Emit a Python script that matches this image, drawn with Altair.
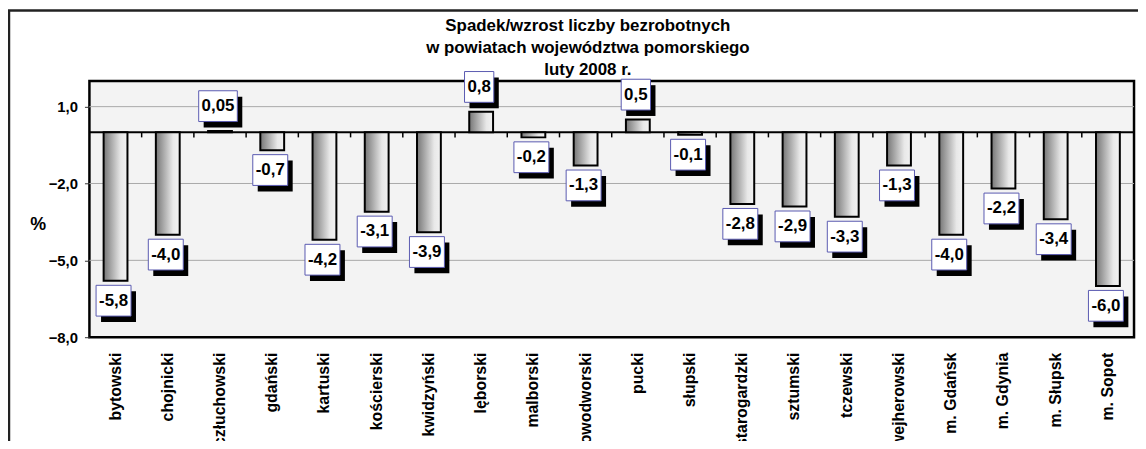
import altair as alt
import pandas as pd

categories = ["bytowski", "chojnicki", "człuchowski", "gdański", "kartuski",
              "kościerski", "kwidzyński", "lęborski", "malborski", "nowodworski",
              "pucki", "słupski", "starogardzki", "sztumski", "tczewski",
              "wejherowski", "m. Gdańsk", "m. Gdynia", "m. Słupsk", "m. Sopot"]
values = [-5.8, -4.0, 0.05, -0.7, -4.2, -3.1, -3.9, 0.8, -0.2, -1.3,
          0.5, -0.1, -2.8, -2.9, -3.3, -1.3, -4.0, -2.2, -3.4, -6.0]
y_ticks = [1.0, -2.0, -5.0, -8.0]
y_domain = [-8.0, 2.0]
title_lines = ["Spadek/wzrost liczby bezrobotnych",
               "w powiatach województwa pomorskiego",
               "luty 2008 r."]
y_title = "%"


def fmt(v):
    s = f"{v:.2f}" if round(v * 100) % 10 else f"{v:.1f}"
    return s.replace(".", ",")


df = pd.DataFrame({"cat": categories, "v": values, "lbl": [fmt(v) for v in values]})
one = pd.DataFrame({"a": [0]})
grid_df = pd.DataFrame({"t": y_ticks[:-1]})
zero_df = pd.DataFrame({"z": [0.0]})

FONT = "Liberation Sans"
W, H = 1052, 258

x_axis = alt.Axis(title=None, labelAngle=-90, labelFontSize=16,
                  labelFontWeight="bold", labelColor="black",
                  labelFont=FONT, labelPadding=15, ticks=False, domain=False)
x_scale = alt.Scale(paddingInner=0, paddingOuter=0)
x_enc = alt.X("cat:N", sort=categories, scale=x_scale, axis=x_axis)
x_edge = alt.X("cat:N", sort=categories, scale=x_scale, axis=x_axis,
               bandPosition=1)
y_scale = alt.Scale(domain=y_domain, nice=False, zero=False)
y_enc = alt.Y("v:Q", scale=y_scale,
              axis=alt.Axis(values=y_ticks,
                            labelExpr="replace(format(datum.value, '.1f'), '.', ',')",
                            title=y_title, titleAngle=0, titleX=-52, titleY=145,
                            titleFontSize=18, titleFontWeight="bold",
                            titleAlign="center", titleBaseline="middle",
                            titleColor="black", titleFont=FONT,
                            grid=False, domain=False, tickSize=5,
                            tickColor="#333333", labelFontSize=15,
                            labelFontWeight="bold", labelPadding=7,
                            labelColor="black", labelFont=FONT))

bar_gradient = alt.Gradient(gradient="linear", x1=0, y1=0, x2=1, y2=0,
                            stops=[alt.GradientStop(color="#767676", offset=0),
                                   alt.GradientStop(color="#e8e8e8", offset=0.72),
                                   alt.GradientStop(color="#f2f2f2", offset=1)])

base = alt.Chart(df)

grid = alt.Chart(grid_df).mark_rule(color="#a8a8a8", strokeWidth=1).encode(
    y=alt.Y("t:Q", scale=y_scale))

zero_line = alt.Chart(zero_df).mark_rule(color="black", strokeWidth=2).encode(
    y=alt.Y("z:Q", scale=y_scale))

zero_ticks = base.transform_filter(
    alt.datum.cat != categories[-1]
).transform_calculate(z="0", z2="-0.2").mark_rule(
    strokeWidth=1.5, color="black").encode(
    x=x_edge, y=alt.Y("z:Q", scale=y_scale), y2="z2:Q")

bars = base.mark_bar(size=24, fill=bar_gradient, stroke="black",
                     strokeWidth=2).encode(x=x_enc, y=y_enc)


def label_layers(cond, dy):
    d = base.transform_filter(cond).transform_calculate(
        minus="indexof(datum.lbl, '-') >= 0 ? 1 : 0"
    ).transform_calculate(
        hw="(9.4 * (length(datum.lbl) - 1 - datum.minus) + 4.7 + 5.7 * datum.minus) / 2 + 3"
    ).transform_calculate(
        box="'M' + (-datum.hw) + ',-15.5H' + datum.hw + 'V15.5H' + (-datum.hw) + 'Z'"
    )
    shp = alt.Shape("box:N", scale=None, legend=None)
    shadow = d.mark_point(filled=True, fill="black", size=4, opacity=1,
                          strokeWidth=0, xOffset=3, yOffset=dy + 6).encode(
        x=x_enc, y=alt.Y("v:Q", scale=y_scale), shape=shp)
    box = d.mark_point(filled=True, fill="white", stroke="#5a5ab0",
                       strokeWidth=1, size=4, opacity=1, xOffset=-2,
                       yOffset=dy).encode(
        x=x_enc, y=alt.Y("v:Q", scale=y_scale), shape=shp)
    text = d.mark_text(font=FONT, fontSize=17, fontWeight="bold",
                       color="black", xOffset=-2, yOffset=dy).encode(
        x=x_enc, y=alt.Y("v:Q", scale=y_scale), text="lbl:N")
    return [shadow, box, text]


neg_labels = label_layers(alt.datum.v < 0, 20)
pos_labels = label_layers(alt.datum.v >= 0, -25)

frame_top = alt.Chart(one).mark_rule(color="#222222", strokeWidth=2.5).encode(
    x=alt.value(-82), x2=alt.value(W + 10), y=alt.value(-71))
frame_left = alt.Chart(one).mark_rule(color="#222222", strokeWidth=2.5).encode(
    x=alt.value(-81), y=alt.value(-71), y2=alt.value(H + 200))

chart = alt.layer(
    grid, zero_line, zero_ticks, bars,
    *neg_labels, *pos_labels, frame_top, frame_left
).properties(
    width=W, height=H,
    title=alt.TitleParams(text=title_lines, fontSize=17, fontWeight="bold",
                          font=FONT, color="black", lineHeight=22,
                          anchor="middle", frame="group", dx=-24, offset=-70),
    padding={"left": 82, "top": 72, "right": 4, "bottom": 103},
    autosize="none",
).configure_view(fill="#f3f3f3", stroke="black", strokeWidth=2.5)

chart.save("out.html", embed_options={"renderer": "svg", "actions": False})
